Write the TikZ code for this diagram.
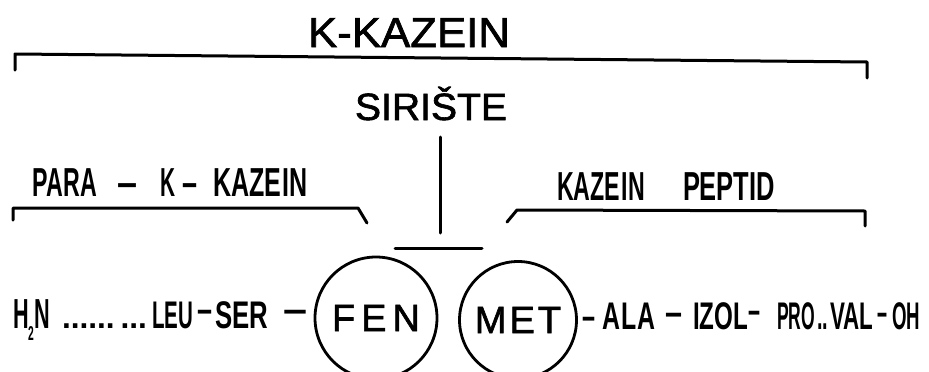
\documentclass[tikz,border=0pt]{standalone}
\usepackage{fontspec}
\usepackage{graphicx}
\setmainfont{Liberation Sans}
\newfontfamily\heavyf[FakeBold=1.6]{Liberation Sans}
\newcommand{\wfont}[1]{\fontsize{#1}{#1}\heavyf}
\newcommand{\cfont}[1]{\fontsize{#1}{#1}\selectfont\bfseries}
\tikzset{
  lbl/.style={anchor=base west, inner sep=0pt, outer sep=0pt},
  brk/.style={line width=3pt, line cap=round, line join=round},
  res/.style={circle, draw, line width=2.8pt, inner sep=0pt, font=\wfont{38}}
}
% name, x, baseline y, width, font size, text (condensed bold)
\newcommand{\ct}[6]{\node[lbl] (#1) at (#2,#3) {\resizebox{#4pt}{\height}{\cfont{#5}#6}};}
% wide text
\newcommand{\wt}[6]{\node[lbl] (#1) at (#2,#3) {\resizebox{#4pt}{\height}{\wfont{#5}#6}};}
\begin{document}
\begin{tikzpicture}[x=1pt,y=-1pt]
\useasboundingbox (0,0) rectangle (929,372);
\clip (0,0) rectangle (929,372);
% top labels
\wt{kk}{308}{47}{202}{42}{K-KAZEIN}
\wt{sir}{355}{120}{152}{38}{SIRIŠTE}
% top bracket
\draw[brk] (15,70) -- (15,54) -- (867,62) -- (867,78);
% para-k-kazein
\ct{para}{33}{196}{64}{40.5}{PARA}
\ct{pd1}{117}{196}{20}{40.5}{–}
\ct{pk}{160}{196}{15}{40.5}{K}
\ct{pd2}{182}{196}{15}{40.5}{–}
\ct{pkz}{213}{196}{95}{40.5}{KAZE\kern3pt IN}
\draw[brk] (13,220) -- (13,208) -- (358,208) -- (367,223);
% kazein peptid
\ct{kz}{557}{200}{88}{40.5}{KAZE\kern3pt IN}
\ct{pep}{683}{200}{92}{40.5}{PEPTID}
\draw[brk] (507,222) -- (517,210) -- (865,211) -- (865,226);
% rennet cut
\coordinate (vt) at (440,137);
\coordinate (vb) at (440,233);
\coordinate (bl) at (395,248);
\coordinate (br) at (482,248);
\draw[brk] (vt) -- (vb);
\draw[brk] (bl) -- (br);
% circles
\node[res, minimum size=122pt] (fen) at (376,318) {F\kern6pt E\kern6pt N};
\node[res, minimum size=117pt] (met) at (518,320) {M\kern3pt E\kern3pt T};
% bottom chain, left
\ct{h2n}{13}{328}{37}{42}{H\kern-1pt\raisebox{-12pt}{\cfont{20}2}\kern1pt N}
\ct{dots}{62}{328}{85}{32}{......\kern6pt...}
\ct{leu}{152}{328}{41}{38.5}{LEU}
\ct{ld1}{197}{322}{15}{38.5}{–}
\ct{ser}{215}{328}{53}{38.5}{SER}
\ct{ld2}{283}{322}{24}{38.5}{–}
% bottom chain, right
\ct{rd1}{582}{329}{13}{38.5}{–}
\ct{ala}{602}{329}{53}{38.5}{A\kern3pt LA}
\ct{rd2}{665}{325}{17}{38.5}{–}
\ct{izol}{693}{329}{55}{38.5}{IZOL}
\ct{rd3}{748}{323}{12}{38.5}{–}
\ct{pro}{777}{329}{38}{38.5}{PRO}
\ct{pdots}{817}{329}{11}{38.5}{..}
\ct{val}{830}{329}{43}{38.5}{VAL}
\ct{rd4}{877}{325}{10}{38.5}{–}
\ct{oh}{892}{329}{28}{38.5}{OH}
\end{tikzpicture}
\end{document}
